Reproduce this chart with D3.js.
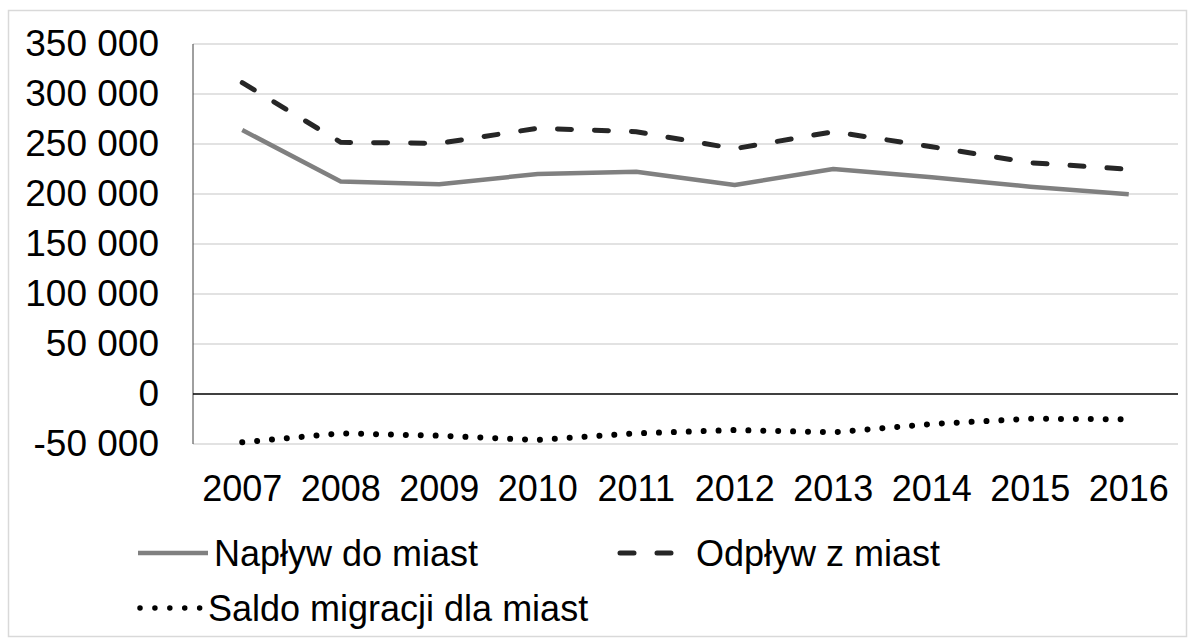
<!DOCTYPE html>
<html>
<head>
<meta charset="utf-8">
<title>Migracje - miasta</title>
<script src="https://d3js.org/d3.v7.min.js"></script>
<style>
  body { margin: 0; background: #fff; }
  svg text { font-family: "Liberation Sans", Arial, sans-serif; fill: #000; }
</style>
</head>
<body>
<svg id="chart" width="1195" height="644"></svg>
<script>
// data
var years  = ["2007", "2008", "2009", "2010", "2011", "2012", "2013", "2014", "2015", "2016"];
var naplyw = [264000, 212500, 209700, 220000, 222300, 209000, 225000, 216700, 207300, 199700];
var odplyw = [311300, 251700, 250700, 265700, 262300, 245300, 262300, 247300, 231300, 224700];
var saldo  = [-48300, -39300, -41700, -46000, -39300, -36000, -38300, -30000, -24700, -25300];
var yTicks = [-50000, 0, 50000, 100000, 150000, 200000, 250000, 300000, 350000];
var seriesNames = ["Napływ do miast", "Odpływ z miast", "Saldo migracji dla miast"];

var svg = d3.select("#chart");

// outer chart border
svg.append("rect")
  .attr("x", 8.5).attr("y", 10.5)
  .attr("width", 1178).attr("height", 626)
  .attr("fill", "none")
  .attr("stroke", "#d9d9d9")
  .attr("stroke-width", 1.5);

var plotL = 193, plotR = 1178, plotT = 44, plotB = 444;

var x = d3.scaleBand().domain(years).range([plotL, plotR]);
var y = d3.scaleLinear().domain([-50000, 350000]).range([plotB, plotT]);

var pl = d3.formatLocale({decimal: ",", thousands: " ", grouping: [3], currency: ["", " zł"], minus: "-"});
var fmt = pl.format(",d");

// gridlines
svg.append("g")
  .selectAll("line")
  .data(yTicks.filter(function(d) { return d != 0; }))
  .enter()
  .append("line")
    .attr("x1", plotL).attr("x2", plotR)
    .attr("y1", function(d) { return y(d); })
    .attr("y2", function(d) { return y(d); })
    .attr("stroke", "#d9d9d9")
    .attr("stroke-width", 1.5);

// y axis labels
var gy = svg.append("g")
  .attr("transform", "translate(" + plotL + ",0)")
  .call(d3.axisLeft(y).tickValues(yTicks).tickSize(0).tickPadding(34).tickFormat(fmt));
gy.select(".domain").remove();
gy.selectAll("text")
  .attr("font-size", "37px")
  .style("font-family", "'Liberation Sans', Arial, sans-serif")
  .attr("fill", "#000");

// y axis line
svg.append("line")
  .attr("x1", plotL).attr("x2", plotL)
  .attr("y1", plotT).attr("y2", plotB)
  .attr("stroke", "#404040")
  .attr("stroke-width", 1);

// zero line
svg.append("line")
  .attr("x1", plotL).attr("x2", plotR)
  .attr("y1", y(0)).attr("y2", y(0))
  .attr("stroke", "#000")
  .attr("stroke-width", 1.5);

// x axis labels
var gx = svg.append("g")
  .attr("transform", "translate(0," + plotB + ")")
  .call(d3.axisBottom(x).tickSize(0).tickPadding(31));
gx.select(".domain").remove();
gx.selectAll("text")
  .attr("font-size", "36px")
  .style("font-family", "'Liberation Sans', Arial, sans-serif")
  .attr("fill", "#000");

var line = d3.line()
  .x(function(d, i) { return x(years[i]) + x.bandwidth() / 2; })
  .y(function(d) { return y(d); });

svg.append("path")
  .datum(naplyw)
  .attr("d", line)
  .attr("fill", "none")
  .attr("stroke", "#808080")
  .attr("stroke-width", 4.5)
  .attr("stroke-linejoin", "round");

svg.append("path")
  .datum(odplyw)
  .attr("d", line)
  .attr("fill", "none")
  .attr("stroke", "#262626")
  .attr("stroke-width", 5)
  .attr("stroke-linecap", "round")
  .attr("stroke-dasharray", "14 23");

svg.append("path")
  .datum(saldo)
  .attr("d", line)
  .attr("fill", "none")
  .attr("stroke", "#000")
  .attr("stroke-width", 6)
  .attr("stroke-linecap", "round")
  .attr("stroke-dasharray", "0.01 14.9");

// legend
var legend = svg.append("g");
var styles = [
  {stroke: "#808080", dash: null, cap: "butt", w: 4.5},
  {stroke: "#262626", dash: "14 23", cap: "round", w: 5},
  {stroke: "#000", dash: "0.01 14.9", cap: "round", w: 5.5}
];
var legPos = [
  {x1: 138, x2: 208, tx: 214, y: 553},
  {x1: 620, x2: 672, tx: 696, y: 553},
  {x1: 140, x2: 200, tx: 208, y: 608}
];
seriesNames.forEach(function(name, i) {
  var p = legPos[i], s = styles[i];
  legend.append("line")
    .attr("x1", p.x1).attr("x2", p.x2)
    .attr("y1", p.y).attr("y2", p.y)
    .attr("stroke", s.stroke)
    .attr("stroke-width", s.w)
    .attr("stroke-linecap", s.cap)
    .attr("stroke-dasharray", s.dash);
  legend.append("text")
    .attr("x", p.tx).attr("y", p.y)
    .attr("dy", "0.35em")
    .attr("font-size", "36px")
    .text(name);
});
</script>
</body>
</html>
